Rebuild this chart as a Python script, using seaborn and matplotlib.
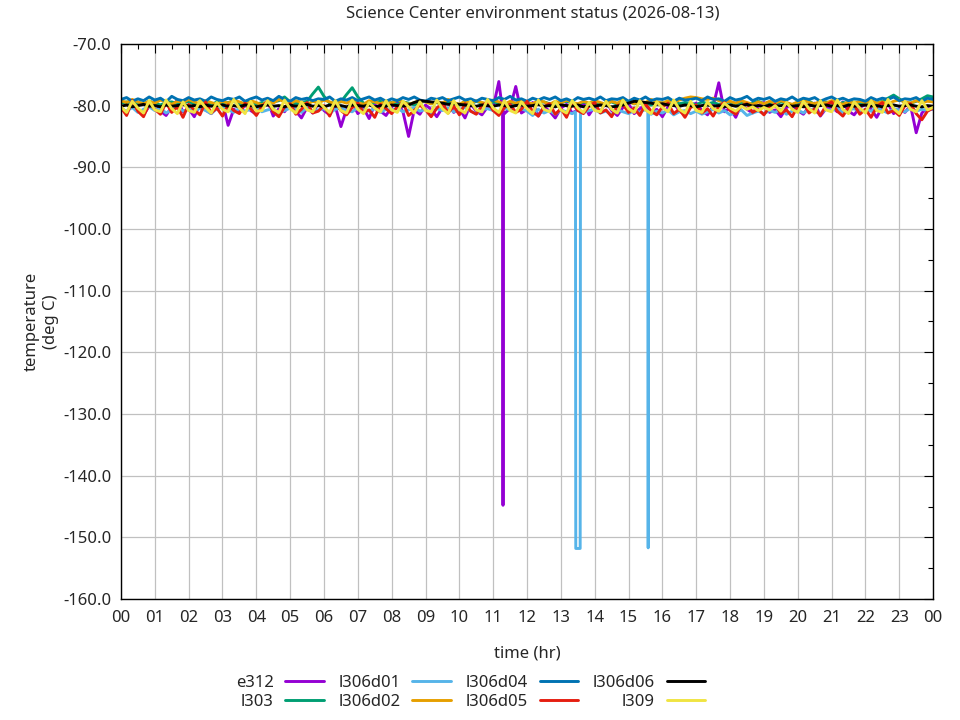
import numpy as np
import pandas as pd
import matplotlib
matplotlib.use("Agg")
import matplotlib.pyplot as plt
import seaborn as sns

title = "Science Center environment status (2026-08-13)"
sensors = ["e312", "l303", "l306d01", "l306d02", "l306d04", "l306d05", "l306d06", "l309"]
colors = ["#9400d3", "#009e73", "#56b4e9", "#e69f00", "#0072b2", "#e51e10", "#000000", "#f0e442"]
hour_labels = ["00", "01", "02", "03", "04", "05", "06", "07", "08", "09", "10", "11", "12",
               "13", "14", "15", "16", "17", "18", "19", "20", "21", "22", "23", "00"]
samples_per_hour = 6  # 10-minute readings

e312 = [
    -80.4, -81.2, -79.6, -80.8, -81.5, -80.1,
    -79.3, -80.9, -81.6, -80.2, -79.1, -81.0,
    -80.5, -81.8, -79.8, -80.7, -81.3, -80.0,
    -79.4, -83.2, -80.6, -81.1, -79.9, -80.8,
    -81.4, -80.2, -79.2, -81.7, -80.5, -81.0,
    -79.7, -80.9, -82.0, -80.3, -81.2, -79.6,
    -80.8, -81.5, -80.1, -83.4, -80.6, -79.5,
    -81.3, -80.4, -82.1, -79.8, -80.9, -81.6,
    -80.2, -79.4, -81.0, -85.0, -80.7, -81.4,
    -79.9, -80.6, -81.8, -80.3, -79.3, -81.1,
    -80.5, -82.0, -79.7, -80.9, -81.5, -80.2,
    -80.3, -76.1, -81.3, -80.4, -76.9, -81.2,
    -80.6, -79.5, -81.7, -80.2, -80.9, -82.0,
    -80.4, -79.8, -81.2, -80.7, -79.6, -81.5,
    -80.1, -81.0, -79.4, -80.8, -81.6, -80.3,
    -79.7, -81.3, -80.5, -79.9, -81.1, -80.6,
    -81.8, -80.2, -79.5, -80.9, -81.4, -80.0,
    -79.6, -80.8, -81.5, -80.1, -76.3, -81.0,
    -80.4, -81.9, -79.8, -80.6, -81.2, -80.0,
    -79.5, -81.1, -80.7, -81.8, -80.3, -79.9,
    -80.8, -81.4, -80.1, -79.6, -81.7, -80.5,
    -80.2, -81.0, -79.4, -80.9, -81.5, -80.3,
    -79.8, -80.6, -81.9, -80.2, -79.7, -81.3,
    -80.5, -81.1, -80.0, -84.4, -81.2, -80.4,
    -80.6,
]
e312_spike_t = [11.28, 11.29, 11.30]
e312_spike_v = [-81.0, -144.8, -80.9]

l303 = [
    -79.6, -79.4, -79.8, -79.5, -79.7, -79.3,
    -79.6, -79.9, -79.5, -79.4, -79.7, -79.6,
    -79.3, -79.8, -79.6, -79.5, -79.9, -79.4,
    -79.7, -79.5, -79.3, -79.8, -79.6, -79.4,
    -79.8, -79.5, -79.7, -79.4, -79.2, -78.6,
    -79.4, -79.7, -79.5, -79.3, -78.1, -77.0,
    -78.5, -79.6, -79.5, -79.4, -78.2, -77.1,
    -78.6, -79.6, -79.8, -79.5, -79.3, -79.7,
    -79.5, -79.8, -79.4, -79.6, -79.9, -79.5,
    -79.3, -79.7, -79.5, -79.8, -79.4, -79.6,
    -79.9, -79.5, -79.7, -79.3, -79.6, -79.8,
    -79.4, -79.6, -79.9, -79.5, -79.7, -79.3,
    -79.6, -79.8, -79.5, -79.4, -79.7, -79.9,
    -79.5, -79.3, -79.6, -79.8, -79.4, -79.7,
    -79.5, -79.9, -79.6, -79.4, -79.8, -79.5,
    -79.3, -79.7, -79.6, -79.5, -79.9, -79.4,
    -79.6, -79.8, -79.3, -79.7, -79.5, -79.6,
    -79.9, -79.4, -79.7, -79.5, -79.8, -79.6,
    -79.4, -79.7, -79.5, -79.9, -79.6, -79.3,
    -79.7, -79.5, -79.8, -79.4, -79.6, -79.9,
    -79.5, -79.6, -79.3, -79.8, -79.7, -79.4,
    -79.6, -79.9, -79.5, -79.7, -79.4, -79.6,
    -79.8, -79.5, -79.6, -79.3, -78.8, -78.3,
    -78.9, -79.5, -79.6, -79.3, -78.9, -78.4,
    -78.6,
]

l306d01 = [
    -80.5, -80.9, -80.3, -81.1, -80.6, -80.2,
    -80.8, -80.4, -81.2, -80.7, -80.3, -80.9,
    -80.6, -81.0, -80.4, -80.8, -81.3, -80.5,
    -80.2, -80.7, -81.1, -80.4, -80.9, -80.6,
    -80.3, -81.0, -80.7, -80.5, -81.2, -80.8,
    -80.4, -80.6, -81.1, -80.3, -80.9, -80.7,
    -80.5, -81.2, -80.6, -80.4, -80.8, -81.0,
    -80.3, -80.7, -80.9, -80.5, -81.1, -80.6,
    -80.8, -80.4, -81.0, -80.7, -80.3, -80.9,
    -80.6, -81.2, -80.5, -80.8, -80.4, -81.0,
    -80.7, -80.3, -80.9, -81.3, -80.6, -80.5,
    -80.8, -81.1, -80.4, -80.7, -81.0, -80.5,
    -80.9, -81.6, -80.6, -81.2, -80.8, -81.4,
    -80.7, -81.0, -81.3, -151.8, -81.1, -80.8,
    -80.6, -81.2, -80.9, -81.5, -80.7, -81.0,
    -81.3, -80.8, -81.1, -80.6, -81.4, -80.9,
    -81.2, -80.7, -81.5, -81.0, -80.8, -81.3,
    -80.9, -81.4, -81.0, -80.6, -81.2, -80.8,
    -81.5, -81.1, -80.7, -81.6, -81.2, -80.9,
    -81.3, -80.8, -81.1, -80.6, -81.4, -80.9,
    -80.7, -81.2, -80.5, -80.9, -81.3, -80.6,
    -80.8, -80.4, -81.1, -80.7, -80.5, -81.0,
    -80.6, -80.9, -80.3, -80.8, -81.2, -80.5,
    -80.7, -81.0, -80.4, -80.9, -80.6, -80.8,
    -80.5,
]
l306d01_spike_t = [13.43, 13.44, 13.57, 13.58, 15.57, 15.58, 15.59]
l306d01_spike_v = [-81.0, -151.8, -151.8, -81.1, -81.0, -151.7, -81.2]

l306d02 = [
    -79.2, -79.5, -79.0, -79.4, -79.7, -79.3,
    -79.6, -79.1, -79.4, -79.8, -79.3, -79.5,
    -79.0, -79.4, -79.7, -79.2, -79.5, -79.8,
    -79.3, -79.6, -79.1, -79.4, -79.7, -79.2,
    -79.5, -79.9, -79.3, -79.6, -79.0, -79.4,
    -79.7, -79.2, -79.5, -79.8, -79.3, -79.6,
    -79.1, -79.4, -79.7, -79.3, -79.6, -79.2,
    -79.5, -79.8, -79.2, -79.4, -79.7, -79.3,
    -79.6, -79.1, -79.4, -79.8, -79.5, -79.2,
    -79.4, -79.7, -79.3, -79.6, -79.0, -79.5,
    -79.8, -79.3, -79.6, -79.2, -79.5, -79.7,
    -79.1, -79.4, -79.8, -79.3, -79.6, -79.2,
    -79.5, -79.7, -79.2, -79.4, -79.8, -79.3,
    -79.6, -79.1, -79.5, -79.7, -79.3, -79.6,
    -79.2, -79.5, -79.8, -79.3, -79.6, -79.1,
    -79.4, -79.7, -79.3, -79.5, -79.0, -79.4,
    -79.6, -79.2, -79.5, -79.1, -78.8, -78.6,
    -78.7, -78.9, -79.0, -78.8, -79.2, -79.4,
    -79.3, -79.6, -79.2, -79.5, -79.8, -79.4,
    -79.7, -79.3, -79.6, -79.2, -79.5, -79.8,
    -79.4, -79.1, -79.5, -79.7, -79.3, -79.6,
    -79.2, -79.5, -79.8, -79.4, -79.6, -79.3,
    -79.5, -79.2, -79.6, -79.4, -79.7, -79.3,
    -79.1, -79.4, -79.6, -79.2, -79.5, -79.3,
    -79.4,
]

l306d04 = [
    -79.0, -78.7, -79.3, -78.9, -79.2, -78.6,
    -79.1, -78.8, -79.4, -78.5, -79.0, -79.2,
    -78.7, -79.1, -78.9, -79.3, -78.6, -79.0,
    -79.2, -78.8, -79.0, -78.6, -79.3, -78.9,
    -78.6, -79.1, -78.8, -79.2, -78.5, -79.0,
    -79.3, -78.7, -79.0, -78.8, -79.2, -78.9,
    -79.0, -78.6, -79.3, -78.9, -79.1, -78.7,
    -79.2, -78.9, -78.6, -79.1, -78.8, -79.3,
    -78.9, -79.2, -78.7, -79.0, -78.6, -79.1,
    -79.3, -78.8, -79.0, -78.7, -79.2, -78.9,
    -78.6, -79.1, -78.9, -79.3, -78.8, -79.0,
    -79.2, -78.7, -79.0, -78.5, -79.1, -78.9,
    -79.3, -78.8, -79.1, -78.7, -79.0, -78.6,
    -79.2, -78.9, -79.3, -78.7, -79.0, -78.8,
    -79.1, -78.6, -79.2, -78.9, -79.0, -78.7,
    -79.3, -78.8, -79.1, -78.6, -79.2, -78.9,
    -79.0, -78.7, -79.3, -78.8, -79.1, -79.0,
    -78.8, -79.2, -78.6, -79.0, -78.9, -79.3,
    -78.7, -79.1, -78.9, -78.5, -79.2, -78.8,
    -79.0, -78.7, -79.3, -78.9, -79.1, -78.6,
    -79.2, -78.8, -79.0, -78.7, -79.3, -78.9,
    -78.6, -79.1, -78.8, -79.2, -78.9, -79.0,
    -79.3, -78.7, -79.1, -78.8, -79.0, -78.6,
    -79.2, -78.9, -79.0, -78.7, -79.3, -78.8,
    -79.0,
]

l306d05 = [
    -80.3, -81.6, -79.2, -80.9, -81.8, -79.7,
    -80.6, -81.4, -79.5, -81.1, -80.2, -81.9,
    -79.8, -80.7, -81.5, -79.4, -81.2, -80.4,
    -81.7, -79.9, -80.8, -81.3, -79.6, -80.5,
    -81.6, -80.1, -79.3, -81.0, -81.8, -80.2,
    -79.7, -81.4, -80.6, -79.5, -81.2, -80.9,
    -80.0, -81.7, -79.4, -80.8, -81.5, -80.3,
    -79.6, -81.1, -80.7, -81.9, -79.8, -80.5,
    -81.3, -80.2, -79.5, -81.6, -80.8, -79.9,
    -80.7, -81.8, -80.4, -79.6, -81.2, -80.1,
    -81.5, -79.7, -80.9, -81.4, -80.0, -79.4,
    -80.8, -81.6, -80.3, -79.8, -81.1, -80.6,
    -79.3, -81.0, -81.7, -80.2, -79.7, -81.4,
    -80.5, -81.9, -79.6, -80.8, -81.3, -80.1,
    -79.5, -81.2, -80.7, -81.8, -80.0, -79.8,
    -81.1, -80.4, -81.6, -79.7, -80.9, -81.5,
    -80.2, -79.6, -81.3, -80.6, -81.9, -80.3,
    -79.9, -81.2, -80.5, -81.7, -80.1, -79.5,
    -80.8, -81.4, -80.0, -79.7, -81.1, -80.6,
    -81.5, -80.2, -79.8, -81.3, -80.7, -81.8,
    -80.1, -79.6, -81.2, -80.5, -81.6, -80.0,
    -79.4, -80.9, -81.7, -80.3, -79.9, -81.4,
    -80.6, -81.9, -80.2, -79.5, -81.2, -80.8,
    -81.6, -80.0, -79.7, -81.3, -82.3, -80.9,
    -80.4,
]

l306d06 = [
    -80.1, -79.9, -80.2, -80.0, -79.8, -80.1,
    -80.0, -80.2, -79.9, -80.1, -80.0, -79.8,
    -80.1, -80.0, -80.2, -79.9, -80.1, -80.0,
    -79.9, -80.1, -80.0, -80.2, -79.9, -80.0,
    -80.2, -80.0, -79.9, -80.1, -80.0, -80.2,
    -79.9, -80.1, -80.0, -79.8, -80.1, -80.0,
    -80.2, -79.9, -80.1, -80.0, -80.2, -79.9,
    -80.0, -80.1, -79.9, -80.2, -80.0, -80.1,
    -79.9, -80.0, -80.1, -79.9, -79.5, -79.2,
    -79.3, -79.4, -79.5, -79.6, -79.8, -79.7,
    -79.8, -79.9, -80.0, -80.1, -79.9, -80.0,
    -80.1, -79.9, -80.0, -80.2, -80.0, -79.9,
    -80.1, -80.0, -79.8, -80.1, -80.0, -80.2,
    -79.9, -80.0, -80.1, -79.9, -80.2, -80.0,
    -80.1, -79.9, -80.0, -80.2, -80.1, -79.9,
    -79.6, -79.3, -79.4, -79.5, -79.6, -79.8,
    -79.7, -79.9, -80.0, -80.1, -79.9, -80.0,
    -80.2, -80.0, -79.9, -80.1, -80.0, -80.2,
    -79.9, -80.1, -80.0, -79.8, -80.1, -80.0,
    -80.2, -79.9, -80.1, -80.0, -79.9, -80.1,
    -80.0, -80.2, -79.9, -80.1, -80.0, -79.9,
    -80.1, -80.0, -80.2, -79.9, -80.1, -80.0,
    -79.9, -80.1, -80.0, -80.2, -80.0, -79.9,
    -80.1, -80.0, -79.9, -80.1, -80.2, -80.0,
    -80.1,
]

l309 = [
    -80.2, -81.1, -79.3, -80.4, -81.2, -79.2,
    -80.7, -81.0, -79.1, -80.5, -81.3, -79.4,
    -80.8, -81.1, -79.2, -80.3, -81.2, -79.5,
    -80.6, -81.0, -79.0, -80.4, -81.3, -79.3,
    -80.9, -80.8, -79.2, -80.6, -81.1, -79.1,
    -80.5, -81.2, -79.4, -80.7, -81.0, -79.3,
    -80.3, -81.1, -79.2, -80.8, -81.2, -79.1,
    -80.6, -81.3, -79.5, -80.4, -81.0, -79.2,
    -80.7, -81.1, -79.3, -80.2, -81.2, -79.4,
    -80.8, -81.0, -79.1, -80.5, -81.3, -79.2,
    -80.6, -81.2, -79.3, -80.7, -81.0, -79.0,
    -80.4, -81.1, -79.2, -80.8, -81.2, -79.4,
    -80.5, -81.3, -79.1, -80.6, -81.0, -79.3,
    -80.7, -81.2, -79.2, -80.4, -81.1, -79.5,
    -80.8, -81.0, -79.3, -80.6, -81.2, -79.1,
    -80.5, -81.1, -79.2, -80.7, -81.3, -79.4,
    -80.3, -81.0, -79.1, -80.6, -81.2, -79.3,
    -80.8, -81.1, -79.4, -80.5, -80.9, -79.6,
    -80.4, -80.9, -80.1, -80.6, -80.2, -80.8,
    -80.3, -80.7, -80.0, -80.9, -79.5, -80.6,
    -81.1, -79.3, -80.5, -81.2, -79.2, -80.7,
    -81.0, -79.1, -80.6, -81.3, -79.4, -80.4,
    -81.2, -79.2, -80.8, -81.1, -79.0, -80.5,
    -81.3, -79.3, -80.6, -81.0, -79.2, -80.7,
    -80.3,
]

series = {
    "e312": (e312, e312_spike_t, e312_spike_v),
    "l303": (l303, [], []),
    "l306d01": (l306d01, l306d01_spike_t, l306d01_spike_v),
    "l306d02": (l306d02, [], []),
    "l306d04": (l306d04, [], []),
    "l306d05": (l306d05, [], []),
    "l306d06": (l306d06, [], []),
    "l309": (l309, [], []),
}

frames = []
for name in sensors:
    vals, st, sv = series[name]
    t = list(np.arange(len(vals)) / samples_per_hour) + list(st)
    v = list(vals) + list(sv)
    frames.append(pd.DataFrame({"hour": t, "temp": v, "sensor": name}))
df = pd.concat(frames, ignore_index=True).sort_values(["sensor", "hour"])

sns.set_style("white")
plt.rcParams["font.family"] = ["Noto Sans", "DejaVu Sans"]

fig = plt.figure(figsize=(9.6, 7.2), dpi=100)
ax = fig.add_axes([0.126, 0.168, 0.846, 0.771])

sns.lineplot(data=df, x="hour", y="temp", hue="sensor", hue_order=sensors,
             palette=dict(zip(sensors, colors)), estimator=None, sort=True,
             linewidth=2.1, ax=ax, legend=True)

ax.set_xlim(0, 24)
ax.set_ylim(-160, -70)
ax.set_xticks(range(25))
ax.set_xticklabels(hour_labels)
ax.set_xticks(np.arange(0.5, 24, 1.0), minor=True)
yt = np.arange(-160, -69, 10)
ax.set_yticks(yt)
ax.set_yticklabels([f"{v:.1f}" for v in yt])
ax.set_yticks(np.arange(-155, -70, 10), minor=True)
ax.grid(True, which="major", color="#c0c0c0", linewidth=0.9)
ax.tick_params(which="both", direction="in", top=True, right=True, labelsize=12,
               color="black")
ax.tick_params(which="major", length=6.5, width=0.8)
ax.tick_params(which="minor", length=3.3, width=0.8)
ax.tick_params(axis="x", which="major", pad=8)
ax.tick_params(axis="y", which="major", pad=7)
for s in ax.spines.values():
    s.set_color("black")
    s.set_linewidth(1.0)
ax.set_axisbelow(True)

fig.text(533 / 960, 1 - 14 / 720, title, fontsize=12, ha="center", va="center")
ax.set_xlabel("time (hr)", fontsize=12, labelpad=14)
ax.set_ylabel("temperature\n(deg C)", fontsize=12, labelpad=3, linespacing=1.25)

handles, labels = ax.get_legend_handles_labels()
ax.get_legend().remove()
fig.legend(handles, labels, loc="upper center", bbox_to_anchor=(0.49, 0.074),
           ncol=4, frameon=False, markerfirst=False, fontsize=12,
           handlelength=2.3, handletextpad=0.7, columnspacing=0.9,
           labelspacing=0.15, borderpad=0.0)

fig.savefig("out.png", dpi=100)
